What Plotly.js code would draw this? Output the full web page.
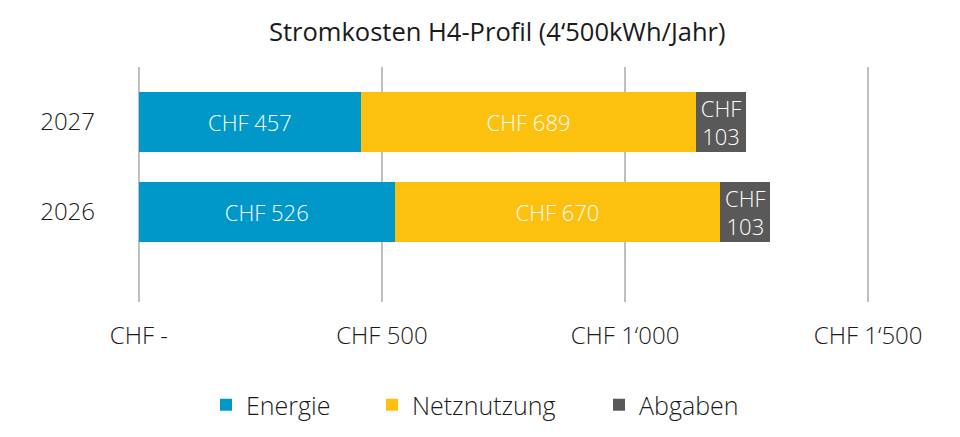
<!DOCTYPE html>
<html>
<head>
<meta charset="utf-8">
<script src="https://cdn.plot.ly/plotly-3.0.1.min.js"></script>
<style>html,body{margin:0;padding:0;background:#fff;}#chart{width:960px;height:437px;}</style>
</head>
<body>
<div id="chart"></div>
<script>
const years = ['2026', '2027'];
const energie = [526, 457];
const netznutzung = [670, 689];
const abgaben = [103, 103];
const seriesNames = ['Energie', 'Netznutzung', 'Abgaben'];
const xTickVals = [0, 500, 1000, 1500];
const xTickText = ['CHF -', 'CHF 500', 'CHF 1‘000', 'CHF 1‘500'];
const chartTitle = 'Stromkosten H4-Profil (4‘500kWh/Jahr)';

const FONT = '"Open Sans", sans-serif';
const colors = ['#0098C9', '#FCC00F', '#595959'];
const legendWidths = [121, 182, 110];

function barTrace(vals, name, color, tpl, lw) {
  return {
    type: 'bar', orientation: 'h',
    y: years, x: vals, name: name,
    marker: {color: color, line: {width: 0}},
    texttemplate: tpl,
    textposition: 'inside',
    insidetextanchor: 'middle',
    constraintext: 'none',
    textfont: {family: FONT, size: 22, color: '#ffffff', weight: 300},
    legendwidth: lw,
    hoverinfo: 'skip'
  };
}

const data = [
  barTrace(energie, seriesNames[0], colors[0], 'CHF %{x}', legendWidths[0]),
  barTrace(netznutzung, seriesNames[1], colors[1], 'CHF %{x}', legendWidths[1]),
  barTrace(abgaben, seriesNames[2], colors[2], 'CHF<br>%{x}', legendWidths[2])
];

const layout = {
  width: 960, height: 437,
  margin: {l: 134, r: 87, t: 67, b: 135},
  paper_bgcolor: '#ffffff', plot_bgcolor: '#ffffff',
  barmode: 'stack', bargap: 0.344,
  font: {family: FONT, color: '#1a1a1a', weight: 300},
  title: {text: chartTitle, x: 0.518, xref: 'container', xanchor: 'center', y: 0.926, yref: 'container', yanchor: 'middle',
          font: {family: FONT, size: 25.5, color: '#1a1a1a', weight: 400}},
  xaxis: {
    range: [-10, 1510], tickvals: xTickVals, ticktext: xTickText,
    showgrid: true, gridcolor: '#BFBFBF', gridwidth: 1.5,
    zeroline: false, showline: false, ticks: '',
    ticklabelstandoff: 17,
    tickfont: {family: FONT, size: 24, color: '#1a1a1a', weight: 300},
    fixedrange: true
  },
  yaxis: {
    type: 'category', range: [-1, 1.611],
    showgrid: false, zeroline: false, showline: false, ticks: '',
    ticklabelstandoff: 38,
    tickfont: {family: FONT, size: 24, color: '#1a1a1a', weight: 300},
    fixedrange: true
  },
  showlegend: true,
  legend: {
    orientation: 'h', x: 206/960, xref: 'container', xanchor: 'left',
    y: 32/437, yref: 'container', yanchor: 'middle',
    traceorder: 'normal',
    font: {family: FONT, size: 25, color: '#1a1a1a', weight: 300}
  }
};

Plotly.newPlot('chart', data, layout, {staticPlot: true, displayModeBar: false});
</script>
</body>
</html>
